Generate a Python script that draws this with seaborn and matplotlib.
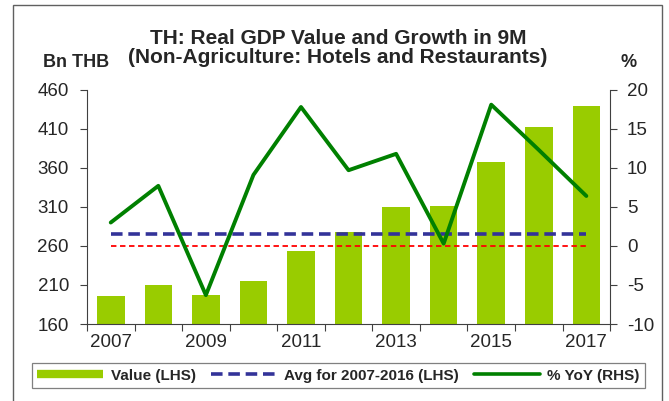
import numpy as np
import pandas as pd
import matplotlib
matplotlib.use("Agg")
import matplotlib.pyplot as plt
import seaborn as sns
from matplotlib.patches import Rectangle
from matplotlib.lines import Line2D
from matplotlib.ticker import FixedLocator, NullFormatter

years = [2007, 2008, 2009, 2010, 2011, 2012, 2013, 2014, 2015, 2016, 2017]
value_lhs = [196, 210, 197, 215, 253, 278, 310, 311, 367, 412, 439]
yoy_rhs = [3.0, 7.7, -6.3, 9.1, 17.8, 9.7, 11.8, 0.3, 18.1, 12.3, 6.4]
avg_2007_2016 = 275
year_labels = ["2007", "", "2009", "", "2011", "", "2013", "", "2015", "", "2017"]

df = pd.DataFrame({"year": [str(y) for y in years], "value": value_lhs, "yoy": yoy_rhs})

sns.set_style("white")
plt.rcParams['font.family'] = ['Liberation Sans', 'DejaVu Sans']
plt.rcParams['axes.unicode_minus'] = False

bar_col = '#99CC00'
line_col = '#008000'
avg_col = '#333399'

fig = plt.figure(figsize=(6.69, 4.01), dpi=100)
ax = fig.add_axes([0.130, 0.192, 0.782, 0.584])

sns.barplot(data=df, x="year", y="value", ax=ax, color=bar_col, width=0.58,
            saturation=1, edgecolor='none')
ax.set_ylim(160, 460)
ax.set_xlim(-0.5, 10.5)
ax.set_yticks(np.arange(160, 461, 50))
ax.set_xticks(range(len(years)))
ax.set_xticklabels(year_labels)
ax.xaxis.set_minor_locator(FixedLocator(np.arange(-0.5, 11, 1)))
ax.xaxis.set_minor_formatter(NullFormatter())
ax.tick_params(axis='x', which='major', length=0, labelsize=13.5, pad=7)
ax.tick_params(axis='x', which='minor', length=5, width=0.8, color='#404040', direction='out', bottom=True)
ax.tick_params(axis='y', length=5, width=0.8, color='#404040', direction='out', left=True,
               labelsize=13.5, pad=8)
ax.set_xlabel('')
ax.set_ylabel('')

# avg line on LHS
ax.plot([0, 10], [avg_2007_2016, avg_2007_2016], color=avg_col, lw=2.6,
        dashes=(3.2, 1.6), zorder=3)

ax2 = ax.twinx()
ax2.set_ylim(-10, 20)
ax2.set_yticks(np.arange(-10, 21, 5))
ax2.tick_params(axis='y', length=5, width=0.8, color='#404040', direction='out', right=True,
                labelsize=13.5, pad=7)
ax2.plot([0, 10], [0, 0], color='red', lw=1.3, dashes=(3, 2), zorder=2)
sns.lineplot(x=np.arange(len(years)), y=yoy_rhs, ax=ax2, color=line_col, lw=2.8, zorder=4)
ax2.set_xlim(-0.5, 10.5)

for a in (ax, ax2):
    a.spines['top'].set_visible(False)
    for s in ('left', 'right', 'bottom'):
        a.spines[s].set_color('#404040')
        a.spines[s].set_linewidth(0.8)
ax.spines['right'].set_visible(False)
ax2.spines['left'].set_visible(False)
ax2.spines['bottom'].set_visible(False)

fig.text(0.505, 0.905, "TH: Real GDP Value and Growth in 9M", ha='center', va='center',
         fontsize=15, fontweight='bold')
fig.text(0.505, 0.857, "(Non-Agriculture: Hotels and Restaurants)", ha='center', va='center',
         fontsize=15, fontweight='bold')
fig.text(0.064, 0.845, "Bn THB", ha='left', va='center', fontsize=13, fontweight='bold')
fig.text(0.940, 0.843, "%", ha='center', va='center', fontsize=13, fontweight='bold')

# outer frame
fig.add_artist(Rectangle((0.019, -0.05), 0.970, 1.038, transform=fig.transFigure,
                         fill=False, edgecolor='#606060', lw=1.0))

handles = [Line2D([], [], color=bar_col, lw=6, solid_capstyle='butt'),
           Line2D([], [], color=avg_col, lw=2.6, dashes=(3.2, 1.6)),
           Line2D([], [], color=line_col, lw=2.6)]
labels = ["Value (LHS)", "Avg for 2007-2016 (LHS)", "% YoY (RHS)"]
leg = fig.legend(handles, labels, loc='center', bbox_to_anchor=(0.506, 0.063), ncol=3,
                 frameon=True, fancybox=False, edgecolor='#606060', handlelength=4.3,
                 columnspacing=1.0, handletextpad=0.5, borderpad=0.35,
                 prop={'weight': 'bold', 'size': 11})
leg.get_frame().set_linewidth(0.9)

fig.savefig("out.png", dpi=100)
